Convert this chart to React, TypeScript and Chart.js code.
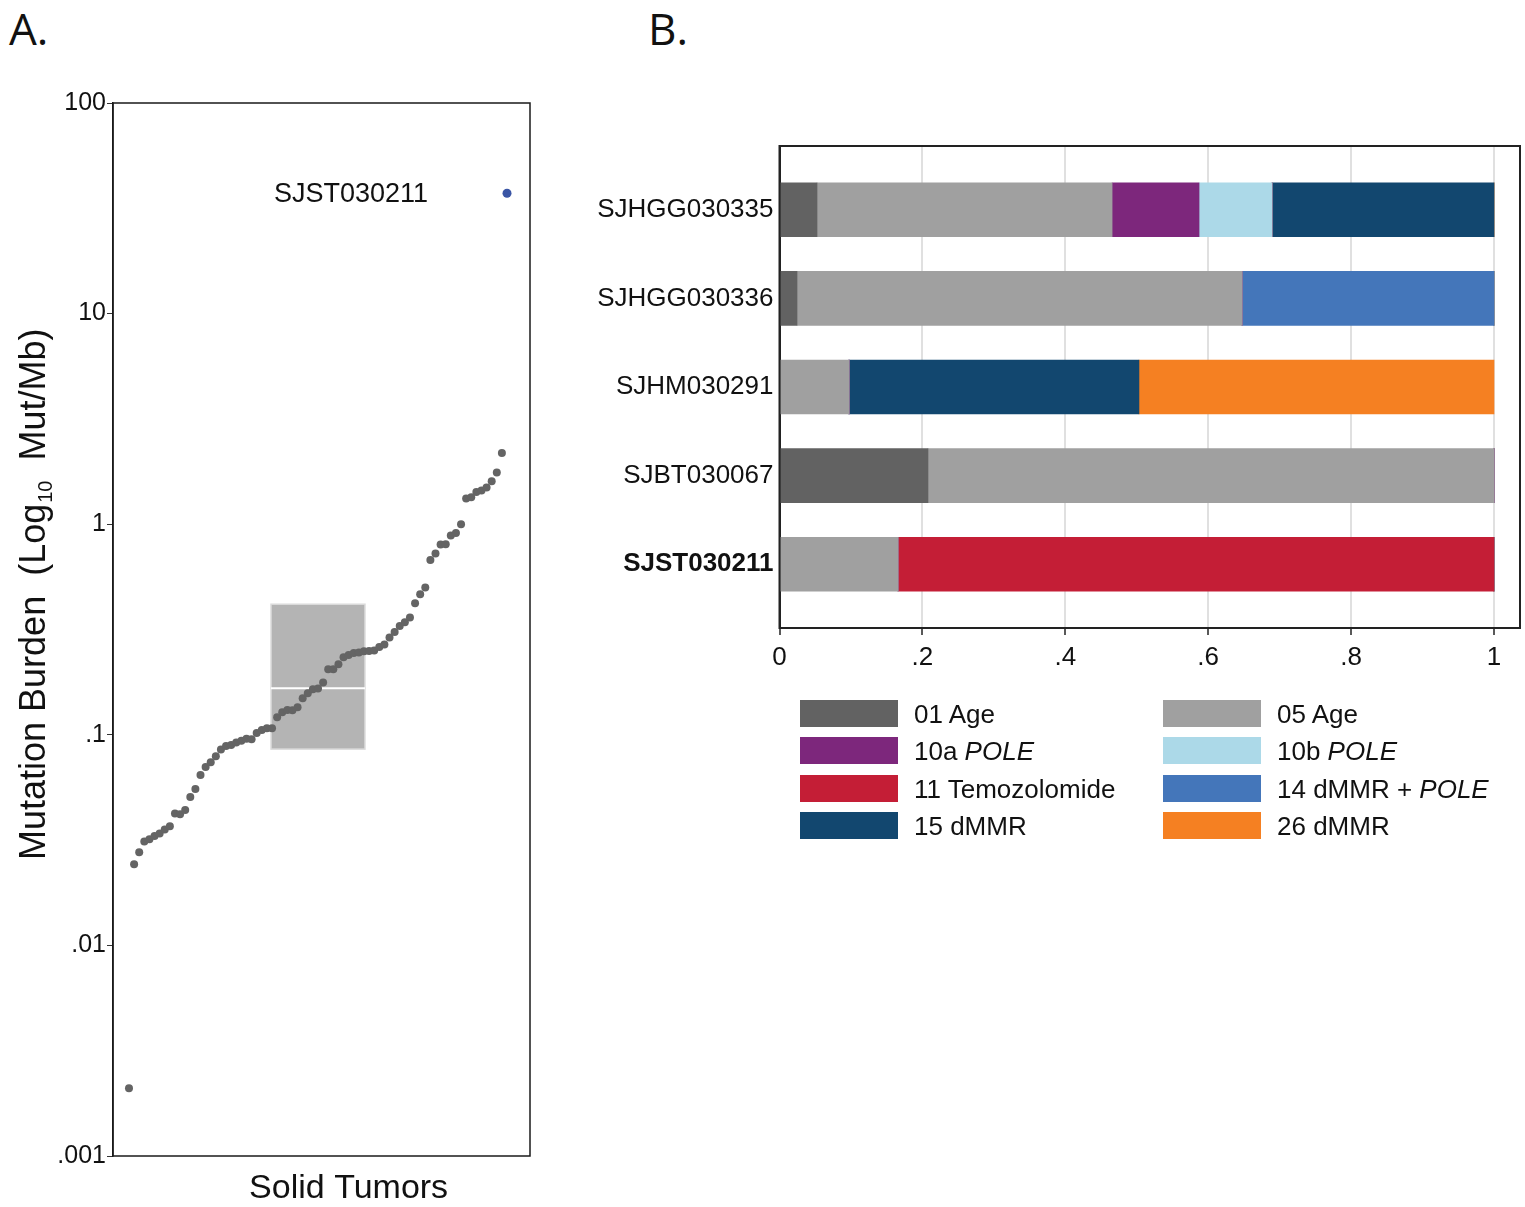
import React, { useEffect, useRef } from 'react';
import Chart from 'chart.js/auto';

const FONT = '"Liberation Sans", Arial, Helvetica, sans-serif';
const INK = '#111111';

// ---- Panel A: mutation burden per solid tumor (sorted) ----
const burdenValues = [
    0.0021, 0.0243, 0.0277, 0.0311, 0.0319, 0.0331, 0.034, 0.0355, 0.0368, 0.0423,
    0.042, 0.0439, 0.0506, 0.0553, 0.0645, 0.0704, 0.0741, 0.0791, 0.0852, 0.0885,
    0.0895, 0.0919, 0.0936, 0.0957, 0.0953, 0.102, 0.1055, 0.1075, 0.1075, 0.1212,
    0.128, 0.1313, 0.1308, 0.1352, 0.149, 0.1577, 0.1647, 0.166, 0.177, 0.205,
    0.205, 0.2165, 0.2335, 0.2395, 0.2448, 0.246, 0.249, 0.25, 0.2514, 0.2614,
    0.2684, 0.2897, 0.308, 0.329, 0.3425, 0.3605, 0.4215, 0.4652, 0.5004, 0.677,
    0.726, 0.801, 0.803, 0.884, 0.909, 1.0, 1.324, 1.343, 1.423, 1.446,
    1.493, 1.6, 1.76, 2.18,
];
const highlightSample = 'SJST030211';
const highlightValue = 37.3;
const highlightIndex = 74;

// box: x extent (sample index) and q1 / median / q3
const boxRange = [27.8, 46.2];
const boxStats = [0.0855, 0.1665, 0.417];

const burdenTickValues = [0.001, 0.01, 0.1, 1, 10, 100];
const burdenTickLabels = ['.001', '.01', '.1', '1', '10', '100'];
const burdenTitleParts = ['Mutation Burden  (Log', '10', '  Mut/Mb)'];
const burdenXTitle = 'Solid Tumors';

// ---- Panel B: signature contributions ----
const sampleNames = ['SJHGG030335', 'SJHGG030336', 'SJHM030291', 'SJBT030067', 'SJST030211'];
const signatureLabels = ['01 Age', '05 Age', '10a POLE', '10b POLE', '11 Temozolomide', '14 dMMR + POLE', '15 dMMR', '26 dMMR'];
const signatureColors = ['#626262', '#a0a0a0', '#7d277c', '#acd9e8', '#c41e36', '#4476ba', '#12476f', '#f58022'];
const sig01Age = [0.0525, 0.0245, 0, 0.2078, 0];
const sig05Age = [0.413, 0.6228, 0.0973, 0.7922, 0.1659];
const sig10aPole = [0.1217, 0, 0, 0, 0];
const sig10bPole = [0.1022, 0, 0, 0, 0];
const sig11Tmz = [0, 0, 0, 0, 0.8341];
const sig14MmrPole = [0, 0.3527, 0, 0, 0];
const sig15Mmr = [0.3107, 0, 0.4058, 0, 0];
const sig26Mmr = [0, 0, 0.4969, 0, 0];
const signatureValues = [sig01Age, sig05Age, sig10aPole, sig10bPole, sig11Tmz, sig14MmrPole, sig15Mmr, sig26Mmr];

const fractionTickValues = [0, 0.2, 0.4, 0.6, 0.8, 1];
const fractionTickLabels = ['0', '.2', '.4', '.6', '.8', '1'];

const MutationBurdenChart: React.FC = () => {
    const canvasRef = useRef<HTMLCanvasElement>(null);

    useEffect(() => {
        if (!canvasRef.current) return;

        const decor = {
            id: 'burdenDecor',
            beforeDatasetsDraw(chart: any) {
                const { ctx, scales: { x, y } } = chart;
                const left = x.getPixelForValue(boxRange[0]);
                const right = x.getPixelForValue(boxRange[1]);
                const q1 = y.getPixelForValue(boxStats[0]);
                const med = y.getPixelForValue(boxStats[1]);
                const q3 = y.getPixelForValue(boxStats[2]);
                ctx.save();
                ctx.fillStyle = '#b4b4b4';
                ctx.fillRect(left, q3, right - left, q1 - q3);
                ctx.strokeStyle = '#dcdcdc';
                ctx.lineWidth = 1.5;
                ctx.strokeRect(left, q3, right - left, q1 - q3);
                ctx.strokeStyle = '#ffffff';
                ctx.lineWidth = 2;
                ctx.beginPath();
                ctx.moveTo(left, med);
                ctx.lineTo(right, med);
                ctx.stroke();
                ctx.restore();
            },
            afterDraw(chart: any) {
                const { ctx, chartArea, scales: { x, y } } = chart;
                ctx.save();
                ctx.strokeStyle = '#1a1a1a';
                ctx.lineWidth = 1.5;
                ctx.strokeRect(chartArea.left, chartArea.top, chartArea.right - chartArea.left, chartArea.bottom - chartArea.top);

                ctx.fillStyle = INK;
                // label next to the highlighted sample
                ctx.font = `27px ${FONT}`;
                ctx.textAlign = 'right';
                ctx.textBaseline = 'middle';
                ctx.fillText(highlightSample, x.getPixelForValue(highlightIndex) - 79, y.getPixelForValue(highlightValue) + 1);

                // x title
                ctx.font = `34px ${FONT}`;
                ctx.textAlign = 'center';
                ctx.fillText(burdenXTitle, chartArea.left + (chartArea.right - chartArea.left) * 0.565, chartArea.bottom + 33);

                // y title with subscript
                ctx.translate(chartArea.left - 68, chartArea.bottom - 296);
                ctx.rotate(-Math.PI / 2);
                ctx.textAlign = 'left';
                ctx.textBaseline = 'alphabetic';
                let cx = 0;
                ctx.font = `36px ${FONT}`;
                ctx.fillText(burdenTitleParts[0], cx, 0);
                cx += ctx.measureText(burdenTitleParts[0]).width + 1;
                ctx.font = `20px ${FONT}`;
                ctx.fillText(burdenTitleParts[1], cx, 7);
                cx += ctx.measureText(burdenTitleParts[1]).width;
                ctx.font = `36px ${FONT}`;
                ctx.fillText(burdenTitleParts[2], cx, 0);
                ctx.restore();
            },
        };

        const chart = new Chart(canvasRef.current, {
            type: 'scatter',
            data: {
                datasets: [
                    {
                        label: 'Solid tumors',
                        data: burdenValues.map((v, i) => ({ x: i, y: v })),
                        backgroundColor: '#646464',
                        borderWidth: 0,
                        pointRadius: 4,
                    },
                    {
                        label: highlightSample,
                        data: [{ x: highlightIndex, y: highlightValue }],
                        backgroundColor: '#3a55a5',
                        borderWidth: 0,
                        pointRadius: 4.5,
                    },
                ],
            },
            options: {
                responsive: false,
                animation: false,
                layout: { padding: { top: 33, right: 30, bottom: 51, left: 0 } },
                plugins: {
                    legend: { display: false },
                    tooltip: { enabled: false },
                },
                scales: {
                    x: {
                        type: 'linear',
                        display: false,
                        min: -3.13,
                        max: 78.5,
                    },
                    y: {
                        type: 'logarithmic',
                        min: 0.001,
                        max: 100,
                        afterBuildTicks: (axis: any) => {
                            axis.ticks = burdenTickValues.map(v => ({ value: v }));
                        },
                        afterFit: (axis: any) => {
                            axis.width = 113;
                        },
                        ticks: {
                            color: INK,
                            padding: 1,
                            font: { family: FONT, size: 25 },
                            callback: (value: any) => {
                                const i = burdenTickValues.indexOf(Number(value));
                                return i >= 0 ? burdenTickLabels[i] : '';
                            },
                        },
                        grid: {
                            display: true,
                            drawOnChartArea: false,
                            tickLength: 6,
                            tickColor: '#333',
                        },
                        border: { display: true, color: '#1a1a1a', width: 1.5 },
                    },
                },
            },
            plugins: [decor],
        });

        return () => chart.destroy();
    }, []);

    return <canvas ref={canvasRef} width={560} height={1137} style={{ position: 'absolute', left: 0, top: 70 }} />;
};

const SignatureChart: React.FC = () => {
    const canvasRef = useRef<HTMLCanvasElement>(null);

    useEffect(() => {
        if (!canvasRef.current) return;

        const frame = {
            id: 'signatureFrame',
            afterDatasetsDraw(chart: any) {
                const { ctx, chartArea } = chart;
                ctx.save();
                ctx.strokeStyle = '#222';
                ctx.lineWidth = 2;
                ctx.strokeRect(chartArea.left, chartArea.top, chartArea.right - chartArea.left, chartArea.bottom - chartArea.top);
                ctx.restore();
            },
        };

        const chart = new Chart(canvasRef.current, {
            type: 'bar',
            data: {
                datasets: signatureLabels.map((label, s) => ({
                    label,
                    data: sampleNames.map((_, i) => ({ x: signatureValues[s][i], y: i })),
                    backgroundColor: signatureColors[s],
                    borderWidth: 0,
                    barThickness: 54,
                })),
            },
            options: {
                indexAxis: 'y',
                responsive: false,
                animation: false,
                layout: { padding: { top: 26, right: 5, bottom: 0, left: 0 } },
                plugins: {
                    legend: { display: false },
                    tooltip: { enabled: false },
                },
                scales: {
                    x: {
                        type: 'linear',
                        stacked: true,
                        min: 0,
                        max: 1.0364,
                        afterBuildTicks: (axis: any) => {
                            axis.ticks = fractionTickValues.map(v => ({ value: v }));
                        },
                        afterFit: (axis: any) => {
                            axis.height = 72;
                        },
                        ticks: {
                            color: INK,
                            padding: 7,
                            maxRotation: 0,
                            font: { family: FONT, size: 26 },
                            callback: (value: any) => {
                                const i = fractionTickValues.indexOf(Number(value));
                                return i >= 0 ? fractionTickLabels[i] : '';
                            },
                        },
                        grid: {
                            color: '#e0e0e0',
                            lineWidth: 2,
                            tickColor: '#222',
                            tickLength: 7,
                            tickWidth: 1.5,
                        },
                        border: { display: true, color: '#222', width: 2 },
                    },
                    y: {
                        type: 'linear',
                        stacked: true,
                        reverse: true,
                        offset: false,
                        min: -0.72,
                        max: 4.72,
                        afterBuildTicks: (axis: any) => {
                            axis.ticks = sampleNames.map((_, i) => ({ value: i }));
                        },
                        afterFit: (axis: any) => {
                            axis.width = 219.5;
                        },
                        ticks: {
                            color: INK,
                            padding: 6,
                            font: (ctx: any) => ({
                                family: FONT,
                                size: 26,
                                weight: sampleNames[ctx.tick?.value] === highlightSample ? 'bold' : 'normal',
                            }),
                            callback: (value: any) => sampleNames[Number(value)] ?? '',
                        },
                        grid: { display: false, drawTicks: false },
                        border: { display: true, color: '#222', width: 2 },
                    },
                },
            },
            plugins: [frame],
        });

        return () => chart.destroy();
    }, []);

    return <canvas ref={canvasRef} width={965} height={580} style={{ position: 'absolute', left: 560, top: 120 }} />;
};

const LegendLabel: React.FC<{ text: string }> = ({ text }) => (
    <>
        {text.split(/(POLE)/).map((part, i) =>
            part === 'POLE' ? <i key={i}>{part}</i> : <span key={i}>{part}</span>
        )}
    </>
);

const App: React.FC = () => {
    return (
        <div style={{ position: 'absolute', left: 0, top: 0, width: 1525, height: 1207, overflow: 'hidden', background: '#fff', fontFamily: FONT, color: INK }}>
            <div style={{ position: 'absolute', left: 9, top: 2, fontFamily: '"Open Sans", sans-serif', fontSize: 44, lineHeight: '52px' }}>A.</div>
            <div style={{ position: 'absolute', left: 648, top: 2, fontFamily: '"Open Sans", sans-serif', fontSize: 44, lineHeight: '52px' }}>B.</div>
            <MutationBurdenChart />
            <SignatureChart />
            <div
                style={{
                    position: 'absolute',
                    left: 800,
                    top: 700,
                    display: 'grid',
                    gridTemplateColumns: '363px 363px',
                    gridAutoRows: '37.3px',
                }}
            >
                {signatureLabels.map((label, s) => (
                    <div key={label} style={{ display: 'flex', alignItems: 'flex-start', height: 37.3 }}>
                        <div style={{ width: 98, height: 27, background: signatureColors[s], flex: 'none' }} />
                        <div style={{ marginLeft: 16, fontSize: 26, lineHeight: '28px', whiteSpace: 'nowrap' }}>
                            <LegendLabel text={label} />
                        </div>
                    </div>
                ))}
            </div>
        </div>
    );
};

export default App;
